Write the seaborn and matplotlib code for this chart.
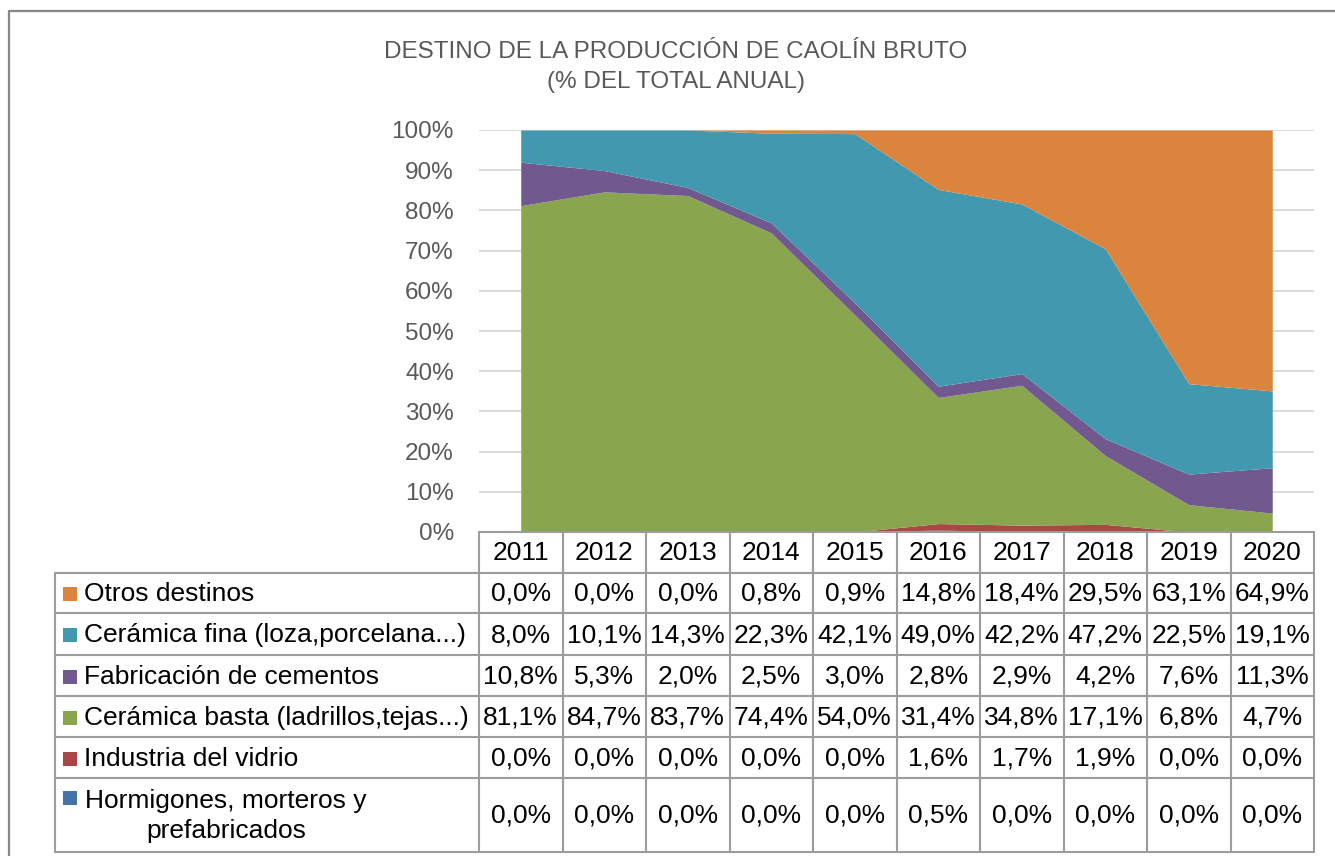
import matplotlib
matplotlib.use("Agg")
import matplotlib.pyplot as plt
from matplotlib.patches import Rectangle
import numpy as np
import pandas as pd
import seaborn as sns

# ---------------- data ----------------
years = ["2011", "2012", "2013", "2014", "2015", "2016", "2017", "2018", "2019", "2020"]
otros = [0.0, 0.0, 0.0, 0.8, 0.9, 14.8, 18.4, 29.5, 63.1, 64.9]
ceramica_fina = [8.0, 10.1, 14.3, 22.3, 42.1, 49.0, 42.2, 47.2, 22.5, 19.1]
cementos = [10.8, 5.3, 2.0, 2.5, 3.0, 2.8, 2.9, 4.2, 7.6, 11.3]
ceramica_basta = [81.1, 84.7, 83.7, 74.4, 54.0, 31.4, 34.8, 17.1, 6.8, 4.7]
vidrio = [0.0, 0.0, 0.0, 0.0, 0.0, 1.6, 1.7, 1.9, 0.0, 0.0]
hormigones = [0.0, 0.0, 0.0, 0.0, 0.0, 0.5, 0.0, 0.0, 0.0, 0.0]

# stacking order: bottom -> top
series_labels = [
    "Hormigones, morteros y\nprefabricados",
    "Industria del vidrio",
    "Cerámica basta (ladrillos,tejas...)",
    "Fabricación de cementos",
    "Cerámica fina (loza,porcelana...)",
    "Otros destinos",
]
series_values = [hormigones, vidrio, ceramica_basta, cementos, ceramica_fina, otros]
series_colors = ["#4572A7", "#AA4643", "#89A54E", "#71588F", "#4198AF", "#DB843D"]

title = "DESTINO DE LA PRODUCCIÓN DE CAOLÍN BRUTO\n(% DEL TOTAL ANUAL)"

df = pd.DataFrame({lab: vals for lab, vals in zip(series_labels, series_values)}, index=years)
pct = df.div(df.sum(axis=1), axis=0) * 100

# ---------------- style ----------------
sns.set_theme(style="white")
plt.rcParams["font.family"] = ["Liberation Sans", "DejaVu Sans"]
palette = sns.color_palette(series_colors)

W, H = 1335, 856
fig = plt.figure(figsize=(W / 100, H / 100), dpi=100)
fig.patch.set_facecolor("white")

# plot area geometry (pixels)
px_left, px_right = 479, 1314
px_top, px_bottom = 130, 532
ax = fig.add_axes([px_left / W, 1 - px_bottom / H, (px_right - px_left) / W, (px_bottom - px_top) / H])

x = np.arange(len(years))
ax.stackplot(x, *[pct[c].values for c in series_labels], colors=palette, linewidth=0, antialiased=True)
ax.set_xlim(-0.5, len(years) - 0.5)
ax.set_ylim(0, 100)
ax.set_yticks(np.arange(0, 101, 10))
ax.set_yticklabels([f"{v}%" for v in range(0, 101, 10)], color="#595959", fontsize=17.5)
ax.set_xticks([])
ax.tick_params(axis="y", length=0, pad=18)
ax.yaxis.grid(True, color="#D9D9D9", linewidth=1.4)
ax.set_axisbelow(True)
for s in ax.spines.values():
    s.set_visible(False)
ax.set_facecolor("none")

# ---------------- overlay for title and border ----------------
ov = fig.add_axes([0, 0, 1, 1], zorder=-1)
ov.set_xlim(0, W)
ov.set_ylim(H, 0)
ov.axis("off")
ov.patch.set_alpha(0)

# outer chart border
ov.plot([9, 9, W + 5], [H + 5, 11, 11], color="#868686", lw=1.6, solid_capstyle="butt")

ov.text(676, 67, title, ha="center", va="center", fontsize=17.5, color="#595959",
        linespacing=1.45)

# ---------------- data table ----------------
ov2 = fig.add_axes([0, 0, 1, 1], zorder=5)
ov2.set_xlim(0, W)
ov2.set_ylim(H, 0)
ov2.axis("off")
ov2.patch.set_alpha(0)

grid_c = "#9C9C9C"
glw = 1.5
col_w = (px_right - px_left) / len(years)
tbl_left = 55
header_top, header_bot = 532, 573
row_bounds = [573, 613, 655, 696, 737, 778, 852]
tbl_bottom = row_bounds[-1]

ov2.plot([px_left, px_right], [header_top, header_top], color=grid_c, lw=glw)
for i in range(len(years) + 1):
    xx = px_left + i * col_w
    ov2.plot([xx, xx], [header_top, tbl_bottom], color=grid_c, lw=glw)
ov2.plot([tbl_left, tbl_left], [header_bot, tbl_bottom], color=grid_c, lw=glw)
for yb in row_bounds:
    ov2.plot([tbl_left, px_right], [yb, yb], color=grid_c, lw=glw)

fs = 19
for i, yr in enumerate(years):
    ov2.text(px_left + (i + 0.5) * col_w, (header_top + header_bot) / 2 + 1, yr,
             ha="center", va="center", fontsize=fs, color="black")

rows = list(reversed(list(zip(series_labels, series_values, palette))))
for r, (lab, vals, col) in enumerate(rows):
    y0, y1 = row_bounds[r], row_bounds[r + 1]
    yc = (y0 + y1) / 2 + 1
    if "\n" in lab:
        key_y = y0 + 20
        ov2.text(226, yc, lab, ha="center", va="center", multialignment="center",
                 fontsize=fs, color="black", linespacing=1.3)
    else:
        key_y = yc
        ov2.text(84, yc, lab, ha="left", va="center", fontsize=fs, color="black")
    ov2.add_patch(Rectangle((63, key_y - 7), 14, 14, facecolor=col, edgecolor="none"))
    for i, v in enumerate(vals):
        ov2.text(px_left + (i + 0.5) * col_w, yc, f"{v:.1f}".replace(".", ",") + "%",
                 ha="center", va="center", fontsize=fs, color="black")

fig.savefig("out.png", dpi=100, facecolor="white")
